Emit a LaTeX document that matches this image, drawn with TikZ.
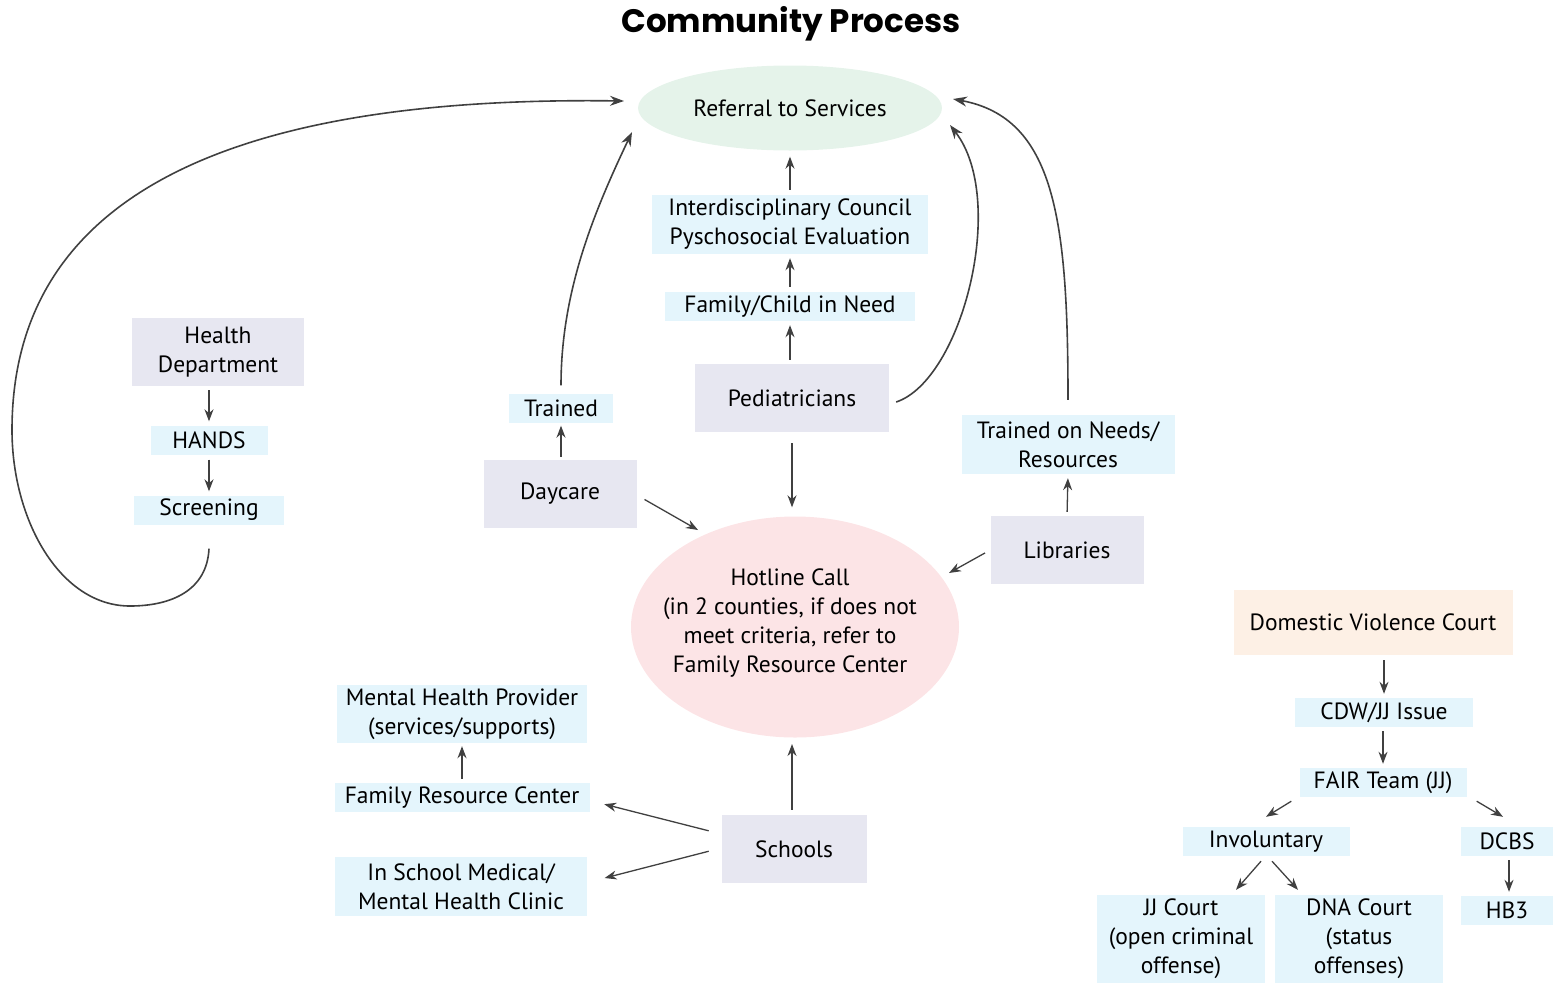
\documentclass[tikz,border=0pt]{standalone}
\usepackage{fontspec}
\setmainfont{PT Sans}
\newfontfamily\titlefont{Poppins}
\usetikzlibrary{arrows.meta,shapes.geometric}
\definecolor{grn}{HTML}{E5F3EA}
\definecolor{pnk}{HTML}{FCE4E6}
\definecolor{gry}{HTML}{E7E7F1}
\definecolor{blu}{HTML}{E4F5FC}
\definecolor{org}{HTML}{FDF0E5}
\definecolor{arr}{HTML}{404040}
\tikzset{
  txt/.style={font=\fontsize{23.5}{29}\selectfont, align=center, inner sep=0pt, text=black},
  gbox/.style={txt, fill=gry},
  bbox/.style={txt, fill=blu},
  conn/.style={draw=arr, line width=1.3pt, -{Stealth[length=12pt,width=9pt]}},
  curv/.style={draw=arr, line width=1.6pt, -{Stealth[length=14pt,width=10pt]}},
}
\begin{document}
\begin{tikzpicture}[x=1pt,y=-1pt]
\useasboundingbox (0,0) rectangle (1554,983);
\node[font=\titlefont\bfseries\fontsize{32.5}{36}\selectfont] (title) at (791,24) {Community Process};
% ellipses
\node[txt, ellipse, fill=grn, inner xsep=-20pt, minimum width=304pt, minimum height=85pt] (ref) at (790,108) {Referral to Services};
\node[ellipse, fill=pnk, minimum width=328pt, minimum height=221pt, inner sep=0pt] (hot) at (795,627) {};
\node[txt] (hottxt) at (790,623) {Hotline Call\\(in 2 counties, if does not\\meet criteria, refer to\\Family Resource Center};
% center column
\node[bbox, minimum width=276pt, minimum height=59pt] (idc) at (790,224.5) {Interdisciplinary Council\\Pyschosocial Evaluation};
\node[bbox, minimum width=250pt, minimum height=29pt] (fcn) at (790,306.5) {Family/Child in Need};
\node[gbox, minimum width=194pt, minimum height=68pt] (ped) at (792,398) {Pediatricians};
\node[bbox, minimum width=104pt, minimum height=29pt] (trn) at (561,408) {Trained};
\node[gbox, minimum width=153pt, minimum height=68pt] (day) at (560,494) {Daycare};
% left column
\node[gbox, minimum width=172pt, minimum height=68pt] (hd) at (218,352) {Health\\Department};
\node[bbox, minimum width=117pt, minimum height=29pt] (hands) at (209,440) {HANDS};
\node[bbox, minimum width=150pt, minimum height=29pt] (scr) at (209,510) {Screening};
% right
\node[bbox, minimum width=213pt, minimum height=59pt] (tnr) at (1068,444.5) {Trained on Needs/\\Resources};
\node[gbox, minimum width=153pt, minimum height=68pt] (lib) at (1067,550) {Libraries};
% bottom left
\node[bbox, minimum width=250pt, minimum height=58pt] (mhp) at (462,714) {Mental Health Provider\\(services/supports)};
\node[bbox, minimum width=255pt, minimum height=29pt] (frc) at (462,797.5) {Family Resource Center};
\node[bbox, minimum width=252pt, minimum height=59pt] (isc) at (461,886.5) {In School Medical/\\Mental Health Clinic};
\node[gbox, minimum width=145pt, minimum height=68pt] (sch) at (794,849) {Schools};
% bottom right
\node[txt, fill=org, minimum width=279pt, minimum height=65pt] (dvc) at (1373,622.5) {Domestic Violence Court};
\node[bbox, minimum width=178pt, minimum height=29pt] (cdw) at (1384,712.5) {CDW/JJ Issue};
\node[bbox, minimum width=167pt, minimum height=29pt] (fair) at (1383,782.5) {FAIR Team (JJ)};
\node[bbox, minimum width=167pt, minimum height=29pt] (inv) at (1266,841.5) {Involuntary};
\node[bbox, minimum width=92pt, minimum height=29pt] (dcbs) at (1507,841.5) {DCBS};
\node[bbox, minimum width=168pt, minimum height=88pt] (jj) at (1181,939) {JJ Court\\(open criminal\\offense)};
\node[bbox, minimum width=168pt, minimum height=88pt] (dna) at (1359,939) {DNA Court\\(status\\offenses)};
\node[bbox, minimum width=92pt, minimum height=29pt] (hb3) at (1507,910.5) {HB3};
% straight connectors
\draw[conn, shorten <=5pt, shorten >=6pt] (idc.north) -- (ref.south);
\draw[conn, shorten <=5pt, shorten >=4pt] (fcn.north) -- (idc.south);
\draw[conn, shorten <=4pt, shorten >=4pt] (ped.north -| fcn.south) -- (fcn.south);
\draw[conn, shorten <=11pt, shorten >=9pt] (ped.south) -- (ped.south |- hot.north);
\draw[conn, shorten <=3pt, shorten >=3pt] (day.north -| trn.south) -- (trn.south);
\draw[conn, shorten <=9pt] ([yshift=-1pt]day.east) -- (698,530);
\draw[conn, shorten <=4pt, shorten >=4pt] (lib.north) -- (tnr.south);
\draw[conn, shorten <=6pt] (lib.west) -- (949,573);
\draw[conn, shorten <=4pt, shorten >=4pt] (hd.south -| hands.north) -- (hands.north);
\draw[conn, shorten <=5pt, shorten >=4pt] (hands.south) -- (scr.north);
\draw[conn, shorten <=5pt, shorten >=6pt] (sch.north -| 792,0) -- (792,738);
\draw[conn, shorten <=13pt, shorten >=15pt] ([yshift=15pt]sch.west) -- ([yshift=-3pt]frc.east);
\draw[conn, shorten <=13pt, shorten >=18pt] ([yshift=1pt]sch.west) -- ([yshift=4pt]isc.east);
\draw[conn, shorten <=4pt, shorten >=3pt] (frc.north) -- (frc.north |- mhp.south);
\draw[conn, shorten <=5pt, shorten >=4pt] (dvc.south -| cdw.north) -- (cdw.north);
\draw[conn, shorten <=4pt, shorten >=4pt] (cdw.south -| fair.north) -- (fair.north);
\draw[conn] ([xshift=-8pt,yshift=-4pt]fair.south west) -- ([yshift=10pt]inv.north);
\draw[conn] ([xshift=10pt,yshift=-4pt]fair.south east) -- ([xshift=-4pt,yshift=10pt]dcbs.north);
\draw[conn] ([xshift=-5pt,yshift=-5pt]inv.south) -- ([xshift=55pt,yshift=5pt]jj.north);
\draw[conn] ([xshift=6pt,yshift=-5pt]inv.south) -- ([xshift=-61pt,yshift=5pt]dna.north);
\draw[conn, shorten <=4pt, shorten >=4pt] ([xshift=2pt]dcbs.south) -- ([xshift=2pt]hb3.north);
% curved connectors
\draw[curv] ([yshift=-24pt]scr.south) .. controls (207,590) and (172,606) .. (130,606)
   .. controls (60,606) and (12,520) .. (12,430)
   .. controls (12,185) and (250,96) .. (624,101);
\draw[curv] ([yshift=8pt]trn.north) .. controls (561,290) and (595,210) .. (632,132);
\draw[curv] ([xshift=7pt,yshift=-4pt]ped.east) .. controls (962,380) and (1008,200) .. (950,125);
\draw[curv] ([yshift=15pt]tnr.north) .. controls (1068,220) and (1055,118) .. (953,99);
\end{tikzpicture}
\end{document}
